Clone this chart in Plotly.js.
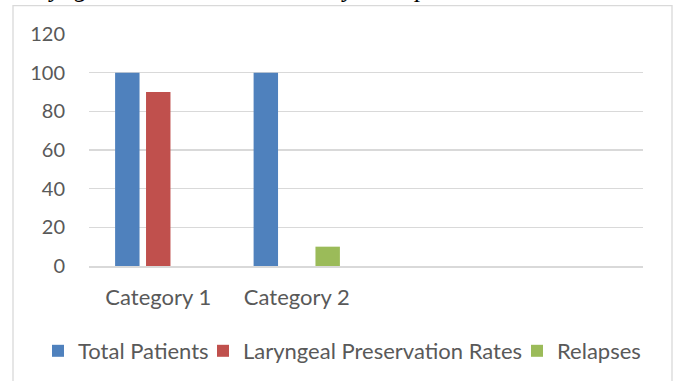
<!DOCTYPE html>
<html>
<head>
<meta charset="utf-8">
<script src="https://cdn.plot.ly/plotly-3.0.1.min.js"></script>
<style>html,body{margin:0;padding:0;background:#fff;}#chart{width:678px;height:381px;}</style>
</head>
<body>
<div id="chart"></div>
<script>
// Data
const categories = ['Category 1', 'Category 2', ' ', '  '];
const seriesNames = ['Total Patients', 'Laryngeal Preservation Rates', 'Relapses'];
const totalPatients = [100, 100, null, null];
const laryngealPreservation = [90, 0, null, null];
const relapses = [0, 10, null, null];
const yTicks = [0, 20, 40, 60, 80, 100, 120];
const captionText = 'Laryngeal Preservation Rates by Group';

const colors = ['#4f81bd', '#c0504d', '#9bbb59'];
const values = [totalPatients, laryngealPreservation, relapses];
const legendIds = ['legend', 'legend2', 'legend3'];
const legendLeft = [38, 203, 517];

const traces = values.map((v, i) => ({
  type: 'bar',
  name: seriesNames[i],
  x: categories,
  y: v,
  legend: legendIds[i],
  marker: { color: colors[i], line: { width: 0 } },
  hoverinfo: 'none'
}));

const W = 678, H = 381;
const L = 89, R = 35, T = 34, B = 114.5;
const pw = W - L - R, ph = H - T - B;
const px = x => (x - L) / pw;
const py = y => (H - B - y) / ph;

const gray = '#595959';
const layout = {
  width: W, height: H,
  margin: { l: L, r: R, t: T, b: B, pad: 0, autoexpand: false },
  paper_bgcolor: '#ffffff',
  plot_bgcolor: '#ffffff',
  barmode: 'group',
  bargap: 0.33,
  bargroupgap: 0.21,
  showlegend: true,
  font: { family: 'Lato, sans-serif', color: gray },
  xaxis: {
    type: 'category',
    categoryorder: 'array',
    categoryarray: categories,
    range: [-0.5, 3.5],
    showgrid: false,
    showline: true,
    linecolor: '#d9d9d9',
    linewidth: 1.5,
    ticks: '',
    ticklabelstandoff: 11,
    tickfont: { family: 'Lato, sans-serif', size: 22, color: gray },
    zeroline: false,
    automargin: false,
    fixedrange: true
  },
  yaxis: {
    range: [0, 120],
    tickvals: yTicks,
    ticktext: yTicks.map(String),
    showgrid: true,
    gridcolor: '#d9d9d9',
    gridwidth: 1.5,
    zeroline: false,
    showline: false,
    ticks: '',
    ticklabelstandoff: 23,
    tickfont: { family: 'Lato, sans-serif', size: 20, color: gray },
    automargin: false,
    fixedrange: true
  },
  shapes: [{
    type: 'rect', xref: 'paper', yref: 'paper',
    x0: px(13), x1: px(672), y0: py(395), y1: py(5.5),
    line: { color: '#d9d9d9', width: 1.3 },
    fillcolor: 'rgba(0,0,0,0)', layer: 'below'
  }],
  annotations: [{
    xref: 'paper', yref: 'paper',
    x: px(10), xanchor: 'left',
    y: py(4.5), yanchor: 'bottom',
    text: captionText,
    showarrow: false,
    font: { family: 'Liberation Serif, serif', size: 26, style: 'italic', color: '#000000' }
  }]
};

legendIds.forEach((id, i) => {
  layout[id] = {
    orientation: 'h',
    xref: 'container', yref: 'container',
    x: legendLeft[i] / W, xanchor: 'left',
    y: 1 - 351 / H, yanchor: 'middle',
    font: { family: 'Lato, sans-serif', size: 22, color: gray },
    bgcolor: 'rgba(0,0,0,0)',
    borderwidth: 0,
    itemclick: false, itemdoubleclick: false
  };
});

Plotly.newPlot('chart', traces, layout, { displayModeBar: false, staticPlot: true });
</script>
</body>
</html>
